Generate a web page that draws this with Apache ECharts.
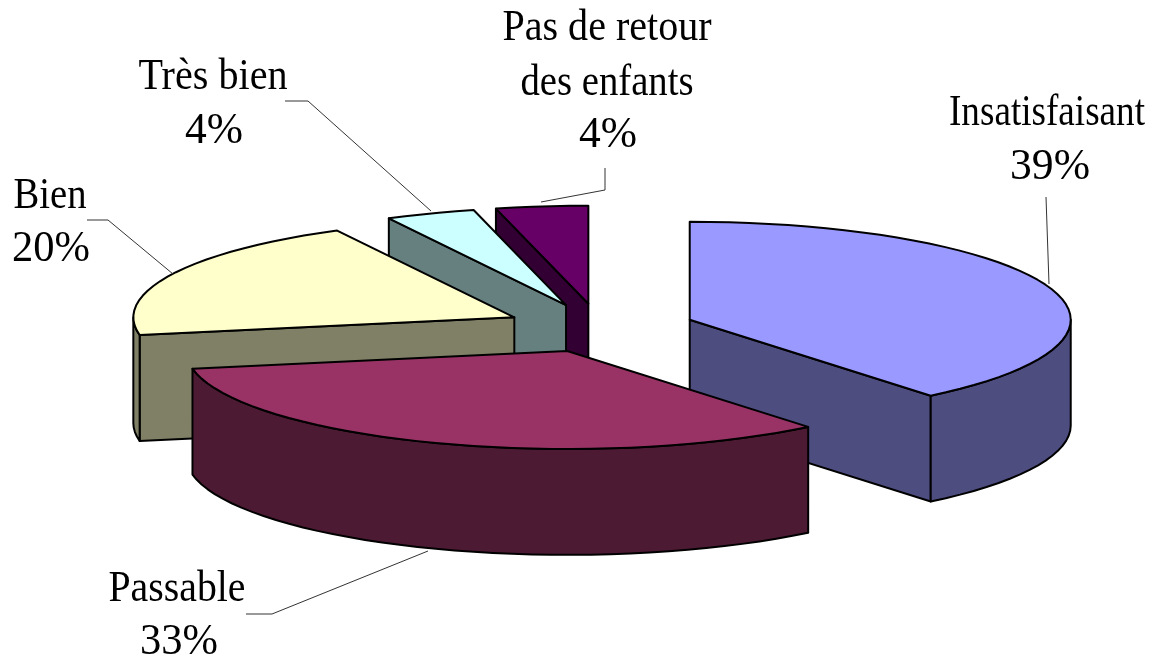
<!DOCTYPE html>
<html><head><meta charset="utf-8">
<script src="https://cdn.jsdelivr.net/npm/echarts@6/dist/echarts.min.js"></script>
<style>html,body{margin:0;background:#fff}#c{width:1155px;height:660px}</style></head>
<body><div id="c"></div>
<script>
const categories = ['Insatisfaisant','Passable','Bien','Très bien','Pas de retour\ndes enfants'];
const shares = [39.1,33,20.2,3.8,3.9];
const topColors = ['#9999FF','#993366','#FFFFCC','#CCFFFF','#660066'];
const sideColors = ['#4D4D80','#4D1A33','#808066','#668080','#330033'];
const drawOrder = [4,3,2,0,1];
// Layout, in pixels: per slice, per text line [centre x, baseline y, target width]
const labelLines = [
  [[1047,125,196],[1050,179,80]],
  [[177,601,137],[179,654,78]],
  [[50,208,73],[51,261,78]],
  [[213,89,149],[214,143,58]],
  [[607,40,209],[607,95,173],[608,147,58]]
];
const leaders = [
  [[1046,197],[1049,284]],
  [[246,614],[272,614],[428,551]],
  [[87,220],[108,220],[173,274]],
  [[285,101],[308,101],[431,211]],
  [[605,168],[605,190],[541,202]]
];
const labelFont = '45px "Liberation Serif"';
const explode = 0.25, depth = 1.08;
const total = shares.reduce((a,b)=>a+b,0);
const rad = d => d*Math.PI/180;
let acc = 0;
const slices = shares.map(v => { const s = acc; acc += v/total*360; return {s, e: acc}; });

function render(params, api){
  const i = api.value(0), {s,e} = slices[i], m = (s+e)/2;
  const ox = explode*Math.sin(rad(m)), oy = explode*Math.cos(rad(m));
  const P = (t,r,d) => api.coord([ox + r*Math.sin(rad(t)), oy + r*Math.cos(rad(t)) - (d||0)]);
  const style = fill => ({fill, stroke:'#000', lineWidth:2, lineJoin:'round'});
  const poly = (pts, fill) => ({type:'polygon', shape:{points:pts}, style:style(fill)});
  const arc = (a,b,d) => { const out=[]; const n=Math.max(2,Math.ceil((b-a)/3)); for(let k=0;k<=n;k++) out.push(P(a+(b-a)*k/n,1,d)); return out; };
  const children = [];
  const side = sideColors[i];
  // only the side walls that face the viewer
  if (Math.cos(rad(s-90)) < -1e-6) children.push(poly([P(0,0),P(s,1),P(s,1,depth),P(0,0,depth)], side));
  if (Math.cos(rad(e+90)) < -1e-6) children.push(poly([P(0,0),P(e,1),P(e,1,depth),P(0,0,depth)], side));
  const a = Math.max(s,90), b = Math.min(e,270);
  if (b > a) children.push(poly(arc(a,b,0).concat(arc(a,b,depth).reverse()), side));
  children.push(poly([P(0,0)].concat(arc(s,e,0)), topColors[i]));
  return {type:'group', children};
}
const mctx = document.createElement('canvas').getContext('2d');
mctx.font = labelFont;
const labelGraphics = [];
categories.forEach((name,i) => {
  const lines = name.split('\n').concat(Math.round(shares[i])+'%');
  lines.forEach((text,k) => {
    const [x,base,w] = labelLines[i][k];
    const sx = w / mctx.measureText(text).width;
    labelGraphics.push({type:'text', x, y:base-12, scaleX:sx, silent:true, z:11,
      style:{text, fill:'#000', font:labelFont, align:'center', verticalAlign:'middle'}});
  });
});
const leaderGraphics = leaders.map(pts => ({type:'polyline', shape:{points:pts}, style:{stroke:'#333',lineWidth:1,fill:null}, silent:true, z:10}));

const chart = echarts.init(document.getElementById('c'), null, {renderer:'canvas'});
chart.setOption({
  animation:false, backgroundColor:'#fff',
  grid:{left:219, top:230, width:762, height:196},
  xAxis:{type:'value', min:-1, max:1, show:false},
  yAxis:{type:'value', min:-1, max:1, show:false},
  graphic:{elements:[...leaderGraphics, ...labelGraphics]},
  series:[{type:'custom', coordinateSystem:'cartesian2d', clip:false, renderItem:render, silent:true,
    encode:{x:0,y:0}, data:drawOrder.map(i=>[i])}]
});
</script></body></html>
